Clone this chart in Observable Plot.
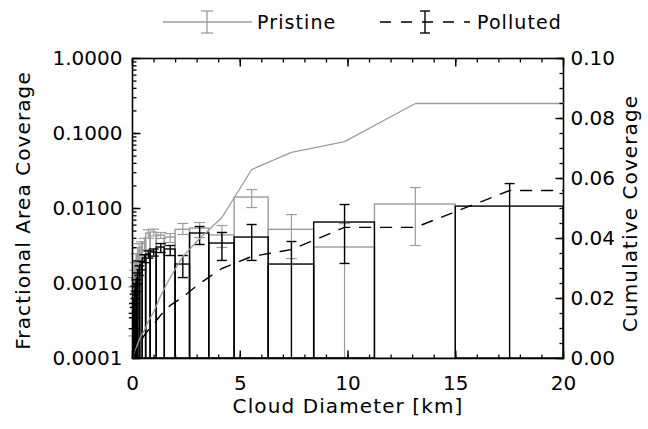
<!DOCTYPE html>
<html>
<head>
<meta charset="utf-8">
<script src="https://cdn.jsdelivr.net/npm/d3@7"></script>
<script src="https://cdn.jsdelivr.net/npm/@observablehq/plot@0.6"></script>
<style>
  html, body { margin: 0; padding: 0; background: white; }
  #wrap { position: relative; width: 648px; height: 429px; font-family: "DejaVu Sans", sans-serif; }
  #wrap svg.layer { position: absolute; left: 0; top: 0; }
  #legend { position: absolute; left: 0; top: 0; }
</style>
</head>
<body>
<div id="wrap"></div>
<script>
// ---- data ----
const binEdges = [0.047, 0.063, 0.084, 0.1125, 0.15, 0.2, 0.267, 0.356, 0.474, 0.632, 0.843, 1.125, 1.5, 2.0, 2.67, 3.56, 4.74, 6.32, 8.43, 11.25, 15, 20];

const pristine   = [5.9e-4, 8.1e-4, 1.09e-3, 1.40e-3, 1.91e-3, 2.37e-3, 2.75e-3, 3.02e-3, 3.41e-3, 4.64e-3, 4.79e-3, 4.37e-3, 4.1e-3, 5.2e-3, 5.4e-3, 4.37e-3, 0.014, 5.2e-3, 3.02e-3, 0.0113, 0];
const pristineLo = [2.0e-4, 3.5e-4, 5.5e-4, 8.0e-4, 1.2e-3, 1.6e-3, 2.0e-3, 2.4e-3, 2.8e-3, 4.0e-3, 4.3e-3, 3.98e-3, 3.52e-3, 4.5e-3, 4.1e-3, 3.02e-3, 0.0103, 2.15e-3, 0, 3.21e-3, null];
const pristineHi = [9.0e-4, 1.2e-3, 1.5e-3, 1.9e-3, 2.5e-3, 3.0e-3, 3.4e-3, 3.6e-3, 4.0e-3, 5.2e-3, 5.3e-3, 4.79e-3, 4.64e-3, 6.31e-3, 6.5e-3, 5.93e-3, 0.0179, 8.3e-3, 6.3e-3, 0.019, null];

const polluted   = [3.2e-4, 4.37e-4, 5.9e-4, 7.6e-4, 9.4e-4, 1.17e-3, 1.49e-3, 1.74e-3, 2.15e-3, 2.44e-3, 2.59e-3, 3.02e-3, 2.84e-3, 1.79e-3, 4.64e-3, 3.41e-3, 4.1e-3, 1.79e-3, 6.5e-3, 0, 0.0106];
const pollutedLo = [2.5e-4, 3.5e-4, 4.8e-4, 6.3e-4, 7.8e-4, 9.8e-4, 1.28e-3, 1.52e-3, 1.9e-3, 2.18e-3, 2.32e-3, 2.59e-3, 2.36e-3, 1.2e-3, 3.31e-3, 2.03e-3, 2.03e-3, 0, 1.85e-3, null, 0];
const pollutedHi = [4.0e-4, 5.4e-4, 7.2e-4, 9.2e-4, 1.12e-3, 1.38e-3, 1.72e-3, 1.98e-3, 2.42e-3, 2.72e-3, 2.88e-3, 3.41e-3, 3.21e-3, 2.36e-3, 5.75e-3, 4.79e-3, 6.12e-3, 3.63e-3, 0.0113, null, 0.0215];

const cumDiameter = [0.055, 0.0735, 0.098, 0.131, 0.175, 0.2335, 0.3115, 0.415, 0.553, 0.7375, 0.984, 1.3125, 1.75, 2.335, 3.115, 4.15, 5.53, 7.375, 9.84, 13.125, 17.5, 20];
const cumPristine = [0.0003, 0.0008, 0.0015, 0.0025, 0.0035, 0.0048, 0.0062, 0.0078, 0.0093, 0.0125, 0.0155, 0.021, 0.027, 0.034, 0.040, 0.047, 0.063, 0.0687, 0.0723, 0.085, 0.085, 0.085];
const cumPolluted = [0.0003, 0.0007, 0.0012, 0.0018, 0.0026, 0.0036, 0.0048, 0.0062, 0.0078, 0.0095, 0.0115, 0.0145, 0.0177, 0.0205, 0.025, 0.030, 0.034, 0.0363, 0.0437, 0.0437, 0.056, 0.056];

const xTicks = [0, 5, 10, 15, 20];
const xMinorTicks = d3.range(0, 21, 1);
const leftTicks = [0.0001, 0.001, 0.01, 0.1, 1];
const rightTicks = [0, 0.02, 0.04, 0.06, 0.08, 0.10];
const rightMinorTicks = d3.range(0, 0.1001, 0.005);

// ---- styling ----
const GRAY = "#9c9c9c";
const YMIN = 1e-4, YMAX = 1;
const W = 648, H = 429;
const M = {left: 132, right: 85, top: 58, bottom: 71};
const FONT = "DejaVu Sans, sans-serif";
const LS = "1.1px";
const leftMinorTicks = d3.scaleLog().domain([YMIN, YMAX]).ticks();

const bins = pristine.map((_, i) => ({
  x1: binEdges[i], x2: binEdges[i + 1], xc: (binEdges[i] + binEdges[i + 1]) / 2,
  pr: pristine[i], prLo: pristineLo[i], prHi: pristineHi[i],
  po: polluted[i], poLo: pollutedLo[i], poHi: pollutedHi[i]
}));
const cum = cumDiameter.map((d, i) => ({d, p: cumPristine[i], q: cumPolluted[i]}));

// custom symbols
const capSym = {draw(ctx, size) { const l = Math.sqrt(size / Math.PI); ctx.moveTo(-l, 0); ctx.lineTo(l, 0); }};
const tickSym = (dx, dy) => ({draw(ctx, size) { const l = Math.sqrt(size / Math.PI); ctx.moveTo(0, 0); ctx.lineTo(dx * l, dy * l); }});

const common = {
  width: W, height: H,
  marginLeft: M.left, marginRight: M.right, marginTop: M.top, marginBottom: M.bottom,
  style: {fontFamily: FONT, fontSize: "20px", color: "black", background: "transparent", overflow: "visible"}
};

const prErr = bins.filter(d => d.prHi != null);
const poErr = bins.filter(d => d.poHi != null);

const left = Plot.plot({
  ...common,
  x: {domain: [0, 20], ticks: xTicks, tickSize: 0, tickPadding: 17, label: null},
  y: {type: "log", domain: [YMIN, YMAX], ticks: leftTicks, tickFormat: d3.format(".4f"), tickSize: 0, tickPadding: 10, label: null},
  marks: [
    Plot.rect(bins.filter(d => d.pr > 0), {x1: "x1", x2: "x2", y1: () => YMIN, y2: "pr", fill: "none", stroke: GRAY, strokeWidth: 1.4}),
    Plot.ruleX(prErr, {x: "xc", y1: d => d.prLo > 0 ? d.prLo : YMIN, y2: "prHi", stroke: GRAY, strokeWidth: 1.2}),
    Plot.dot(prErr, {x: "xc", y: "prHi", symbol: capSym, r: 5.5, fill: "none", stroke: GRAY, strokeWidth: 1.2}),
    Plot.dot(prErr.filter(d => d.prLo > 0), {x: "xc", y: "prLo", symbol: capSym, r: 5.5, fill: "none", stroke: GRAY, strokeWidth: 1.2}),
    Plot.rect(bins.filter(d => d.po > 0), {x1: "x1", x2: "x2", y1: () => YMIN, y2: "po", fill: "none", stroke: "black", strokeWidth: 1.4}),
    Plot.ruleX(poErr, {x: "xc", y1: d => d.poLo > 0 ? d.poLo : YMIN, y2: "poHi", stroke: "black", strokeWidth: 1.4}),
    Plot.dot(poErr, {x: "xc", y: "poHi", symbol: capSym, r: 5, fill: "none", stroke: "black", strokeWidth: 1.4}),
    Plot.dot(poErr.filter(d => d.poLo > 0), {x: "xc", y: "poLo", symbol: capSym, r: 5, fill: "none", stroke: "black", strokeWidth: 1.4}),
    // inward ticks
    Plot.dot(xMinorTicks, {x: d => d, y: () => YMIN, symbol: tickSym(0, -1), r: 4, fill: "none", stroke: "black", strokeWidth: 1.3}),
    Plot.dot(xTicks, {x: d => d, y: () => YMIN, symbol: tickSym(0, -1), r: 8, fill: "none", stroke: "black", strokeWidth: 1.5}),
    Plot.dot(xMinorTicks, {x: d => d, y: () => YMAX, symbol: tickSym(0, 1), r: 4, fill: "none", stroke: "black", strokeWidth: 1.3}),
    Plot.dot(xTicks, {x: d => d, y: () => YMAX, symbol: tickSym(0, 1), r: 8, fill: "none", stroke: "black", strokeWidth: 1.5}),
    Plot.dot(leftMinorTicks, {x: () => 0, y: d => d, symbol: tickSym(1, 0), r: 4, fill: "none", stroke: "black", strokeWidth: 1.3}),
    Plot.dot(leftTicks, {x: () => 0, y: d => d, symbol: tickSym(1, 0), r: 8, fill: "none", stroke: "black", strokeWidth: 1.5}),
    Plot.frame({stroke: "black", strokeWidth: 1.6}),
    Plot.text(["Fractional Area Coverage"], {text: d => d, frameAnchor: "left", textAnchor: "middle", dx: -109, dy: 2, rotate: -90, fontSize: 20}),
    Plot.text(["Cloud Diameter [km]"], {text: d => d, frameAnchor: "bottom", textAnchor: "middle", dy: 54, fontSize: 20})
  ]
});
left.classList.add("layer");

const right = Plot.plot({
  ...common,
  x: {domain: [0, 20], axis: null},
  y: {domain: [0, 0.1], axis: "right", ticks: rightTicks, tickFormat: d3.format(".2f"), tickSize: 0, tickPadding: 7, label: null},
  marks: [
    Plot.line(cum, {x: "d", y: "p", stroke: GRAY, strokeWidth: 1.3}),
    Plot.line(cum, {x: "d", y: "q", stroke: "black", strokeWidth: 1.4, strokeDasharray: "11,10"}),
    Plot.dot(rightMinorTicks, {x: () => 20, y: d => d, symbol: tickSym(-1, 0), r: 4, fill: "none", stroke: "black", strokeWidth: 1.3}),
    Plot.dot(rightTicks, {x: () => 20, y: d => d, symbol: tickSym(-1, 0), r: 8, fill: "none", stroke: "black", strokeWidth: 1.5}),
    Plot.text(["Cumulative Coverage"], {text: d => d, frameAnchor: "right", textAnchor: "middle", dx: 67, dy: 5, rotate: -90, fontSize: 20})
  ]
});
right.classList.add("layer");

// letter spacing for titles
for (const svg of [left, right]) {
  svg.querySelectorAll("text").forEach(t => {
    if (/[A-Za-z]/.test(t.textContent)) t.style.letterSpacing = LS;
  });
}

const wrap = document.getElementById("wrap");
wrap.appendChild(left);
wrap.appendChild(right);

// legend
const legendItems = ["Pristine", "Polluted"];
const svgNS = "http://www.w3.org/2000/svg";
const lg = document.createElementNS(svgNS, "svg");
lg.setAttribute("id", "legend");
lg.setAttribute("width", W);
lg.setAttribute("height", 46);
lg.style.fontFamily = FONT;
lg.innerHTML = `
  <g stroke="${GRAY}" stroke-width="1.3" fill="none">
    <line x1="163" x2="252" y1="22" y2="22"/>
    <line x1="207" x2="207" y1="11" y2="33"/>
    <line x1="201" x2="213" y1="11" y2="11"/>
    <line x1="201" x2="213" y1="33" y2="33"/>
  </g>
  <text x="257" y="29" font-size="19" letter-spacing="${LS}" fill="black">${legendItems[0]}</text>
  <g stroke="black" stroke-width="1.4" fill="none">
    <line x1="380" x2="470" y1="22" y2="22" stroke-dasharray="11,10"/>
    <line x1="425" x2="425" y1="11" y2="33"/>
    <line x1="420" x2="430" y1="11" y2="11"/>
    <line x1="420" x2="430" y1="33" y2="33"/>
  </g>
  <text x="477" y="29" font-size="19" letter-spacing="${LS}" fill="black">${legendItems[1]}</text>
`;
wrap.appendChild(lg);
</script>
</body>
</html>
